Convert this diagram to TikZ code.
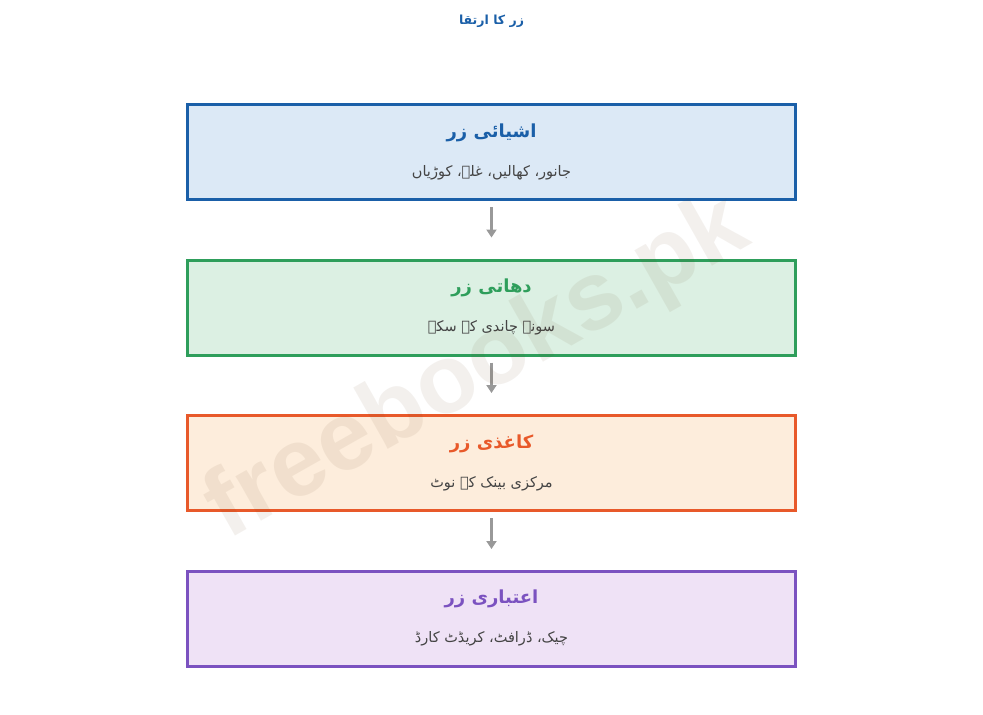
\documentclass[tikz,border=0pt]{standalone}
\usepackage{fontspec}
\TeXXeTstate=1
\newfontfamily\ar[Script=Arabic]{DejaVu Sans}
\setsansfont{Liberation Sans}
\usetikzlibrary{arrows.meta}
\definecolor{cblue}{HTML}{1A5FA8}
\definecolor{fblue}{HTML}{DCE9F6}
\definecolor{cgreen}{HTML}{2E9E5B}
\definecolor{fgreen}{HTML}{DCF0E3}
\definecolor{corange}{HTML}{E8592A}
\definecolor{forange}{HTML}{FDEDDC}
\definecolor{cpurple}{HTML}{7B52C0}
\definecolor{fpurple}{HTML}{EFE2F6}
\definecolor{subgray}{HTML}{444444}
\definecolor{arrgray}{HTML}{999999}
\tikzset{
  stagebox/.style={draw=#1, line width=3pt, minimum width=608pt, minimum height=95pt, inner sep=0pt},
  stagetitle/.style={text=#1, font=\ar\bfseries\fontsize{18}{21}\selectfont, inner sep=0pt},
  stagesub/.style={text=subgray, font=\ar\fontsize{14.5}{17}\selectfont, inner sep=0pt},
  flow/.style={draw=arrgray, line width=2.6pt, -{Triangle[length=8pt,width=10pt]}, shorten <=6pt, shorten >=21pt},
}
\begin{document}
\begin{tikzpicture}[x=1pt,y=-1pt]
\useasboundingbox (0,0) rectangle (983,715);
\fill[white] (0,0) rectangle (983,715);
\node[text=cblue, font=\ar\bfseries\fontsize{12.5}{15}\selectfont] (title) at (491.5,21) {\beginR زر کا ارتقا\endR};

\node[stagebox=cblue, fill=fblue] (b1) at (491.5,152) {};
\node[stagebox=cgreen, fill=fgreen] (b2) at (491.5,307.5) {};
\node[stagebox=corange, fill=forange] (b3) at (491.5,463) {};
\node[stagebox=cpurple, fill=fpurple] (b4) at (491.5,619) {};

\node[stagetitle=cblue] (t1) at (491.5,133) {\beginR اشیائی زر\endR};
\node[stagesub] (s1) at (491.5,173) {\beginR جانور، کھالیں، غلہ، کوڑیاں\endR};
\node[stagetitle=cgreen] (t2) at (491.5,288) {\beginR دھاتی زر\endR};
\node[stagesub] (s2) at (491.5,328) {\beginR سونے چاندی کے سکے\endR};
\node[stagetitle=corange] (t3) at (491.5,444) {\beginR کاغذی زر\endR};
\node[stagesub] (s3) at (491.5,484) {\beginR مرکزی بینک کے نوٹ\endR};
\node[stagetitle=cpurple] (t4) at (491.5,599) {\beginR اعتباری زر\endR};
\node[stagesub] (s4) at (491.5,639) {\beginR چیک، ڈرافٹ، کریڈٹ کارڈ\endR};

\draw[flow] (b1.south) -- (b2.north);
\draw[flow] (b2.south) -- (b3.north);
\draw[flow] (b3.south) -- (b4.north);

\node[rotate=29.5, text=black!45!brown, opacity=0.08, font=\sffamily\bfseries\fontsize{97}{104}\selectfont, inner sep=0pt] (wm) at (478,370) {freebooks.pk};
\end{tikzpicture}
\end{document}
